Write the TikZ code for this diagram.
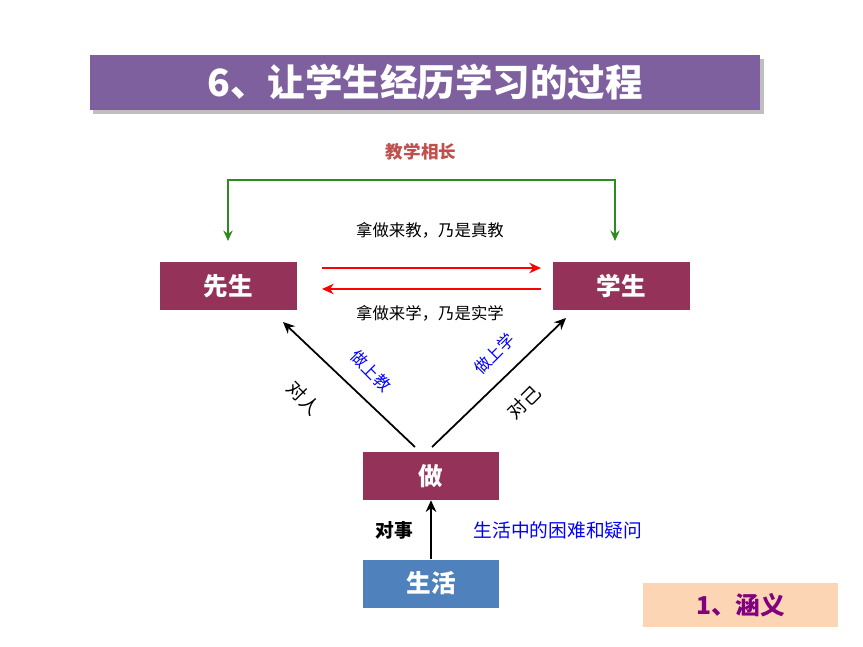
\documentclass[tikz,border=0pt]{standalone}
\usepackage{fontspec}
\setmainfont{Noto Sans CJK SC}
\usetikzlibrary{arrows.meta}
\definecolor{titlepurple}{HTML}{7F609E}
\definecolor{boxred}{HTML}{953259}
\definecolor{boxblue}{HTML}{4F81BD}
\definecolor{tanbox}{HTML}{FCD5B4}
\definecolor{labred}{HTML}{C0504D}
\definecolor{linegreen}{HTML}{2E8B22}
\tikzset{
  box/.style={fill=boxred,text=white,font=\bfseries\fontsize{21}{21}\selectfont,minimum width=4.1cm,minimum height=1.44cm,inner sep=0pt},
  arr/.style={line width=1.5pt,-{Stealth[length=10pt,width=9pt]}},
  note/.style={font=\fontsize{14}{14}\selectfont},
  bluenote/.style={note,text=blue}
}
\begin{document}
\begin{tikzpicture}[x=0.03cm,y=-0.03cm]
\useasboundingbox (0,0) rectangle (863,647);

% Title bar
\fill[gray!50] (93,59) rectangle (764,114);
\node[fill=titlepurple,text=white,font=\bfseries\fontsize{32}{32}\selectfont,minimum width=20.1cm,minimum height=1.65cm,inner sep=0pt] (title) at (425,82.5) {6、让学生经历学习的过程};

% Boxes
\node[box] (teacher) at (228.5,286) {先生};
\node[box] (student) at (621.5,286) {学生};
\node[box] (zuo) at (431,476) {做};
\node[box,fill=boxblue] (life) at (431,583.5) {生活};
\node[fill=tanbox,text=violet,font=\bfseries\fontsize{21}{21}\selectfont,minimum width=5.85cm,minimum height=1.32cm,inner sep=0pt] (meaning) at (740.5,605) {1、涵义};

% Green loop
\coordinate (gl) at (228,241);
\coordinate (gr) at (615,241);
\draw[linegreen,line width=1.5pt,{Stealth[length=9pt,width=8pt]}-{Stealth[length=9pt,width=8pt]}] (gl) -- (228,180) -- (615,180) -- (gr);
\node[text=labred,font=\bfseries\fontsize{15}{15}\selectfont] (mutual) at (421,152) {教学相长};

% Red arrows
\coordinate (r1) at (322,268);
\coordinate (r2) at (541,268);
\coordinate (r3) at (541,289);
\coordinate (r4) at (322,289);
\draw[red,arr] (r1) -- (r2);
\draw[red,arr] (r3) -- (r4);
\node[note] (teach) at (430,230) {拿做来教，乃是真教};
\node[note] (learn) at (430,313) {拿做来学，乃是实学};

% Diagonal arrows
\draw[arr] (415,447) -- (283,322);
\draw[arr] (432,447) -- (566,318);
\node[note,font=\fontsize{16}{16}\selectfont,rotate=-45] (people) at (304,398) {对人};
\node[bluenote,rotate=-45] (doteach) at (371,371) {做上教};
\node[bluenote,rotate=45] (dolearn) at (494,354) {做上学};
\node[note,font=\fontsize{16}{16}\selectfont,rotate=45] (self) at (524,402) {对己};

% Bottom arrow
\draw[arr] (life) -- (zuo);
\node[font=\bfseries\fontsize{16}{16}\selectfont] (things) at (394,530) {对事};
\node[bluenote,font=\fontsize{16}{16}\selectfont] (trouble) at (558,530) {生活中的困难和疑问};
\end{tikzpicture}
\end{document}
